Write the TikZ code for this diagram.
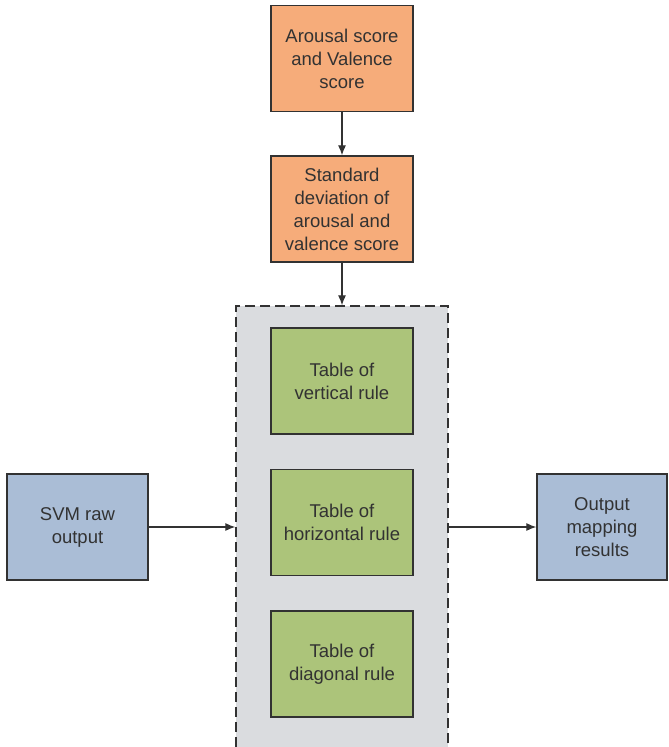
\documentclass[tikz,border=0pt]{standalone}
\usepackage{fontspec}
\setmainfont{Liberation Sans}
\usetikzlibrary{calc,arrows.meta}
\definecolor{scoreorange}{RGB}{246,172,122}
\definecolor{svmblue}{RGB}{170,189,214}
\definecolor{rulegreen}{RGB}{172,196,122}
\definecolor{panelgray}{RGB}{218,220,223}
\definecolor{inkgray}{RGB}{50,50,50}
\def\boxw{142}
\def\boxh{106}

\tikzset{
  block/.style={draw=inkgray, line width=1.3pt, text=inkgray, align=center,
    minimum width=\boxw pt, minimum height=\boxh pt, inner sep=2pt,
    font=\fontsize{18.5}{23}\selectfont},
  link/.style={-{Latex[length=10pt,width=8pt]}, draw=inkgray, line width=1.2pt}
}

\begin{document}
\begin{tikzpicture}[x=1pt,y=-1pt]

\useasboundingbox (0,0) rectangle (669,747);
\clip (0,0) rectangle (669,747);

\node[fill=panelgray, draw=inkgray, line width=1.3pt, dash pattern=on 10pt off 5pt,
      minimum width=212pt, minimum height=450pt] (rules) at (342,531) {};

\node[block, fill=scoreorange] (score) at (342,58.5) {Arousal score\\and Valence\\score};
\node[block, fill=scoreorange] (stddev) at (342,209) {Standard\\deviation of\\arousal and\\valence score};

\node[block, fill=rulegreen] (vert) at (342,381) {Table of\\vertical rule};
\node[block, fill=rulegreen] (horiz) at (342,522.5) {Table of\\horizontal rule};
\node[block, fill=rulegreen] (diag) at (342,664) {Table of\\diagonal rule};

\node[block, fill=svmblue, minimum width=141pt] (svm) at (77.5,527) {SVM raw\\output};
\node[block, fill=svmblue, minimum width=130pt] (out) at (602,527) {Output\\mapping\\results};

\draw[link] (score) -- (stddev);
\draw[link] (stddev) -- (rules.north);
\draw[link] (svm.east) -- (svm.east -| rules.west);
\draw[link] (rules.east |- out.west) -- (out.west);

\end{tikzpicture}
\end{document}
